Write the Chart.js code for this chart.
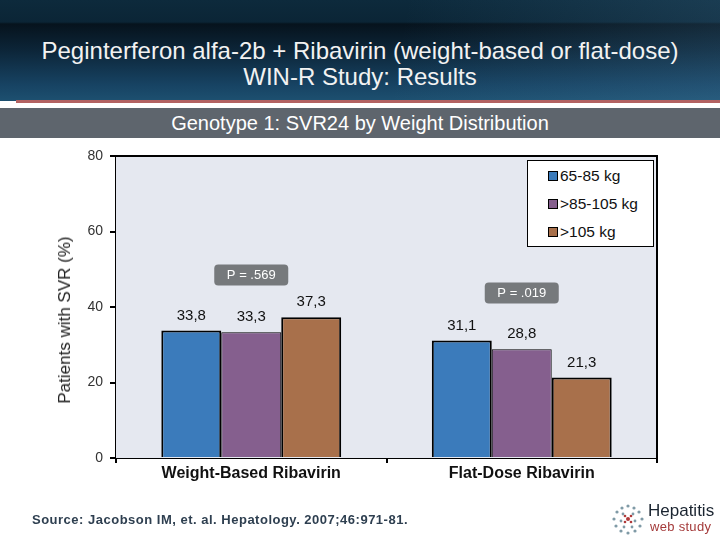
<!DOCTYPE html>
<html>
<head>
<meta charset="utf-8">
<script src="https://cdn.jsdelivr.net/npm/chart.js@4.4.1/dist/chart.umd.min.js"></script>
<style>
  html, body { margin:0; padding:0; width:720px; height:540px; overflow:hidden; background:#fff; font-family:"Liberation Sans", Arial, sans-serif; }
  #header { position:absolute; left:0; top:0; width:720px; height:101px;
    background: linear-gradient(180deg, #0d2a3c 0px, #0b2536 22px, #06131d 24px, #0c2538 50px, #174363 85px, #1d5070 101px); }
  #header .grid { position:absolute; left:0; top:0; width:720px; height:101px;
    background: linear-gradient(100deg, rgba(0,0,0,0) 55%, rgba(90,150,190,0.18) 100%); }
  #title { position:absolute; left:0; top:38px; width:720px; text-align:center; color:#f2f2f2; font-size:24px; line-height:26px; }
  #redline { position:absolute; left:16px; top:100px; width:704px; height:3px; background:#b26262; }
  #subbar { position:absolute; left:0; top:108px; width:720px; height:30px; background:#5e656d; color:#fff; font-size:20px; line-height:30px; text-align:center; }
  #chartwrap { position:absolute; left:0; top:0; width:720px; height:540px; }
  #ytitle { position:absolute; left:65px; top:320px; transform:translate(-50%,-50%) rotate(-90deg); white-space:nowrap; font-size:17px; color:#222; }
  #legend { position:absolute; left:527px; top:160px; width:125px; height:85px; background:#fff; border:1.5px solid #000; }
  .li { position:absolute; left:20px; font-size:15.5px; color:#111; line-height:16px; }
  .sw { display:inline-block; width:8px; height:8px; border:1.5px solid #000; margin-right:2px; vertical-align:0px; }
  #source { position:absolute; left:32px; top:512px; font-size:13px; font-weight:bold; color:#2e3f50; letter-spacing:0.5px; }
  #logo { position:absolute; left:610px; top:500px; width:110px; height:40px; }
  #logo .h { position:absolute; left:38px; top:1px; font-size:17px; color:#1a2430; }
  #logo .w { position:absolute; left:40px; top:19px; font-size:13px; color:#a43a3a; letter-spacing:0.3px; }
</style>
</head>
<body>
<div id="header"><div class="grid"></div></div>
<div id="title">Peginterferon alfa-2b + Ribavirin (weight-based or flat-dose)<br>WIN-R Study: Results</div>
<div id="redline"></div>
<div id="subbar">Genotype 1: SVR24 by Weight Distribution</div>
<div id="chartwrap"><canvas id="c" width="720" height="540"></canvas></div>
<div id="ytitle">Patients with SVR (%)</div>
<div id="legend"></div>
<div id="source">Source: Jacobson IM, et. al. Hepatology. 2007;46:971-81.</div>
<div id="logo">
  <svg width="36" height="36" style="position:absolute;left:0;top:2px">
    <g fill="#7f9aa6">
      <circle cx="18" cy="4" r="1.6"/><circle cx="12" cy="6" r="1.6"/><circle cx="24" cy="6" r="1.6"/>
      <circle cx="7" cy="10" r="1.6"/><circle cx="29" cy="10" r="1.6"/><circle cx="4" cy="17" r="1.6"/>
      <circle cx="32" cy="17" r="1.6"/><circle cx="6" cy="24" r="1.6"/><circle cx="30" cy="24" r="1.6"/>
      <circle cx="11" cy="29" r="1.6"/><circle cx="25" cy="29" r="1.6"/><circle cx="18" cy="31" r="1.6"/>
      <circle cx="13" cy="12" r="1.4"/><circle cx="23" cy="12" r="1.4"/><circle cx="11" cy="19" r="1.4"/>
      <circle cx="25" cy="19" r="1.4"/><circle cx="14" cy="25" r="1.4"/><circle cx="22" cy="25" r="1.4"/>
    </g>
    <g fill="#b03a3a"><circle cx="18" cy="17" r="2"/><circle cx="15" cy="14" r="1.3"/><circle cx="21" cy="20" r="1.3"/><circle cx="21" cy="14" r="1.3"/><circle cx="15" cy="20" r="1.3"/></g>
  </svg>
  <span class="h">Hepatitis</span><span class="w">web study</span>
</div>
<script>
const categories = ["Weight-Based Ribavirin", "Flat-Dose Ribavirin"];
const seriesNames = ["65-85 kg", ">85-105 kg", ">105 kg"];
const series1 = [33.8, 31.1];
const series2 = [33.3, 28.8];
const series3 = [37.3, 21.3];
const pLabels = ["P = .569", "P = .019"];
const pLabelY = [48.5, 43.7];
const yTicks = [0, 20, 40, 60, 80];

const colors = ["#3b7bbb", "#855f8e", "#a8704b"];
const borderWidths = [2, 1, 2];
const values = [series1, series2, series3];

const lg = document.getElementById('legend');
seriesNames.forEach((n, i) => {
  const d = document.createElement('div');
  d.className = 'li';
  d.style.top = (7 + i * 28) + 'px';
  d.innerHTML = '<span class="sw" style="background:' + colors[i] + '"></span>' + n.replace('>', '&gt;');
  lg.appendChild(d);
});

const areaPlugin = {
  id: 'area',
  beforeDatasetsDraw(chart) {
    const { ctx, chartArea: a } = chart;
    ctx.save();
    ctx.fillStyle = '#e5e8f0';
    ctx.fillRect(a.left, a.top, a.right - a.left, a.bottom - a.top);
    ctx.restore();
  },
  afterDraw(chart) {
    const { ctx, chartArea: a } = chart;
    ctx.save();
    ctx.strokeStyle = '#000';
    ctx.lineWidth = 2;
    ctx.beginPath();
    ctx.moveTo(a.left, a.top);
    ctx.lineTo(a.right, a.top);
    ctx.lineTo(a.right, a.bottom);
    ctx.stroke();
    ctx.restore();
  }
};

const labelPlugin = {
  id: 'labels',
  afterDatasetsDraw(chart) {
    const { ctx } = chart;
    ctx.save();
    ctx.font = '15px "Liberation Sans", Arial, sans-serif';
    ctx.fillStyle = '#111';
    ctx.textAlign = 'center';
    ctx.textBaseline = 'middle';
    chart.data.datasets.forEach((ds, di) => {
      chart.getDatasetMeta(di).data.forEach((el, i) => {
        ctx.fillText(String(ds.data[i]).replace('.', ','), el.x, el.y - 15);
      });
    });
    const xs = chart.scales.x, ys = chart.scales.y;
    pLabels.forEach((t, i) => {
      const cx = xs.getPixelForValue(i);
      const cy = ys.getPixelForValue(pLabelY[i]);
      const w = 74, h = 21, r = 4;
      ctx.fillStyle = '#76797c';
      ctx.beginPath();
      ctx.roundRect(cx - w / 2, cy - h / 2, w, h, r);
      ctx.fill();
      ctx.fillStyle = '#fff';
      ctx.font = '13px "Liberation Sans", Arial, sans-serif';
      ctx.fillText(t, cx, cy + 0.5);
    });
    ctx.restore();
  }
};

new Chart(document.getElementById('c'), {
  type: 'bar',
  data: {
    labels: categories,
    datasets: seriesNames.map((n, i) => ({
      label: n,
      data: values[i],
      backgroundColor: colors[i],
      borderColor: '#000',
      borderWidth: borderWidths[i],
      borderSkipped: 'bottom',
      categoryPercentage: 0.665,
      barPercentage: 1.0
    }))
  },
  options: {
    responsive: false,
    animation: false,
    devicePixelRatio: 1,
    layout: { padding: { left: 0, right: 63, top: 156, bottom: 0 } },
    plugins: { legend: { display: false }, tooltip: { enabled: false } },
    scales: {
      y: {
        min: 0, max: 80,
        afterFit(s) { s.width = 116; },
        afterBuildTicks(s) { s.ticks = yTicks.map(v => ({ value: v })); },
        border: { color: '#000', width: 2 },
        grid: { drawOnChartArea: false, drawTicks: true, tickLength: 6, color: '#000', lineWidth: 2 },
        ticks: { color: '#333', font: { size: 14, family: '"Liberation Sans", Arial, sans-serif' }, padding: 7 },
        title: { display: false }
      },
      x: {
        afterFit(s) { s.height = 82; },
        border: { color: '#000', width: 2 },
        grid: { offset: true, drawOnChartArea: false, drawTicks: true, tickLength: 5, color: '#000', lineWidth: 2 },
        ticks: { color: '#111', font: { size: 16, weight: 'bold', family: '"Liberation Sans", Arial, sans-serif' }, padding: 1 }
      }
    }
  },
  plugins: [areaPlugin, labelPlugin]
});
</script>
</body>
</html>
